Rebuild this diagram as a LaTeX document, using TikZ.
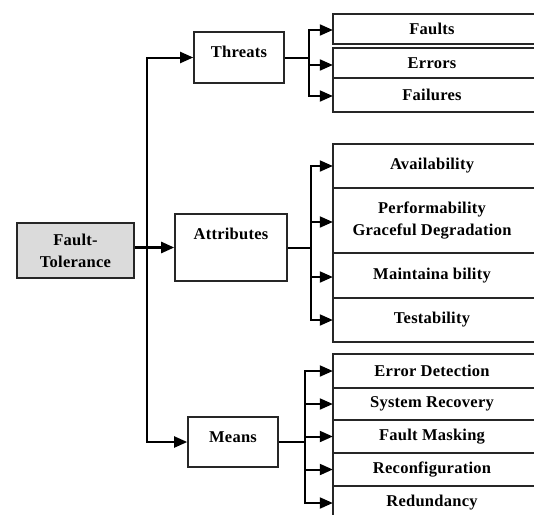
\documentclass[tikz,border=0pt]{standalone}
\usepackage{fontspec}
\setmainfont{Liberation Serif}[LetterSpace=1.5]
\usetikzlibrary{arrows.meta}
\begin{document}
\begin{tikzpicture}[x=1pt,y=-1pt,
  font=\fontsize{16.5}{22}\selectfont\bfseries,
  frame/.style={draw=black!85, line width=1.6pt},
  box/.style={frame, inner sep=0pt},
  item/.style={minimum width=198pt, inner sep=0pt, align=center},
  wire/.style={line width=2pt, black},
  arr/.style={wire, -{Triangle[length=13pt,width=11pt]}},
  lbl/.style={inner sep=0pt, align=center}
]
\useasboundingbox (0,0) rectangle (534,514);
\fill[white] (0,0) rectangle (534,514);
\clip (0,0) rectangle (534,514);

% root
\node[box, fill=black!14, minimum width=117pt, minimum height=55pt, align=center]
  (ft) at (75.5,250.5) {Fault-\\Tolerance};

% second level
\node[box, minimum width=90pt, minimum height=51pt,
  label={[lbl,yshift=6pt]center:Threats}] (threats) at (239,57.5) {};
\node[box, minimum width=112pt, minimum height=67pt,
  label={[lbl,yshift=14pt]center:Attributes}] (attr) at (231,247.5) {};
\node[box, minimum width=90pt, minimum height=50pt,
  label={[lbl,yshift=5pt]center:Means}] (means) at (233,442) {};

% threats
\node[item, minimum height=30pt] (faults)   at (432,29)  {Faults};
\node[item, minimum height=30pt] (errors)   at (432,63)  {Errors};
\node[item, minimum height=34pt] (failures) at (432,95)  {Failures};

% attributes
\node[item, minimum height=44pt] (avail)   at (432,166)   {Availability};
\node[item, minimum height=65pt] (perf)    at (432,220.5) {Performability\\Graceful Degradation};
\node[item, minimum height=45pt] (maint)   at (432,275.5) {Maintaina bility};
\node[item, minimum height=44pt] (test)    at (432,320)   {Testability};

% means
\node[item, minimum height=34pt] (detect)  at (432,371)   {Error Detection};
\node[item, minimum height=32pt] (recover) at (432,404)   {System Recovery};
\node[item, minimum height=33pt] (mask)    at (432,436.5) {Fault Masking};
\node[item, minimum height=33pt] (reconf)  at (432,469.5) {Reconfiguration};
\node[item, minimum height=34pt] (redund)  at (432,503)   {Redundancy};

% leaf frames run on past the right edge
\foreach \n in {faults,errors,failures,avail,perf,maint,test,detect,recover,mask,reconf,redund}
  \draw[frame] (\n.north west) rectangle ([xshift=30pt]\n.south east);

% trunk
\coordinate (j) at (147,248);
\draw[arr, line width=2.4pt] (ft.east |- attr.west) -- (attr.west);
\draw[arr] (j) |- (threats.west);
\draw[arr] (j) |- (means.west);

% threats fan
\coordinate (tf) at (309,58);
\draw[wire] (threats.east |- tf) -- (tf);
\draw[arr] (tf) |- ([yshift=-1pt]faults.west);
\draw[arr] (tf) |- ([yshift=-2pt]errors.west);
\draw[arr] (tf) |- ([yshift=-1pt]failures.west);

% attributes fan
\coordinate (af) at (311,248);
\draw[wire] (attr.east |- af) -- (af);
\draw[arr] (af) |- (avail.west);
\draw[arr] (af) |- ([yshift=-1.5pt]perf.west);
\draw[arr] (af) |- ([yshift=-1.5pt]maint.west);
\draw[arr] (af) |- (test.west);

% means fan
\coordinate (mf) at (305,442);
\draw[wire] (means.east |- mf) -- (mf);
\draw[arr] (mf) |- (detect.west);
\draw[arr] (mf) |- (recover.west);
\draw[arr] (mf) |- (mask.west);
\draw[arr] (mf) |- (reconf.west);
\draw[arr] (mf) |- (redund.west);
\end{tikzpicture}
\end{document}
